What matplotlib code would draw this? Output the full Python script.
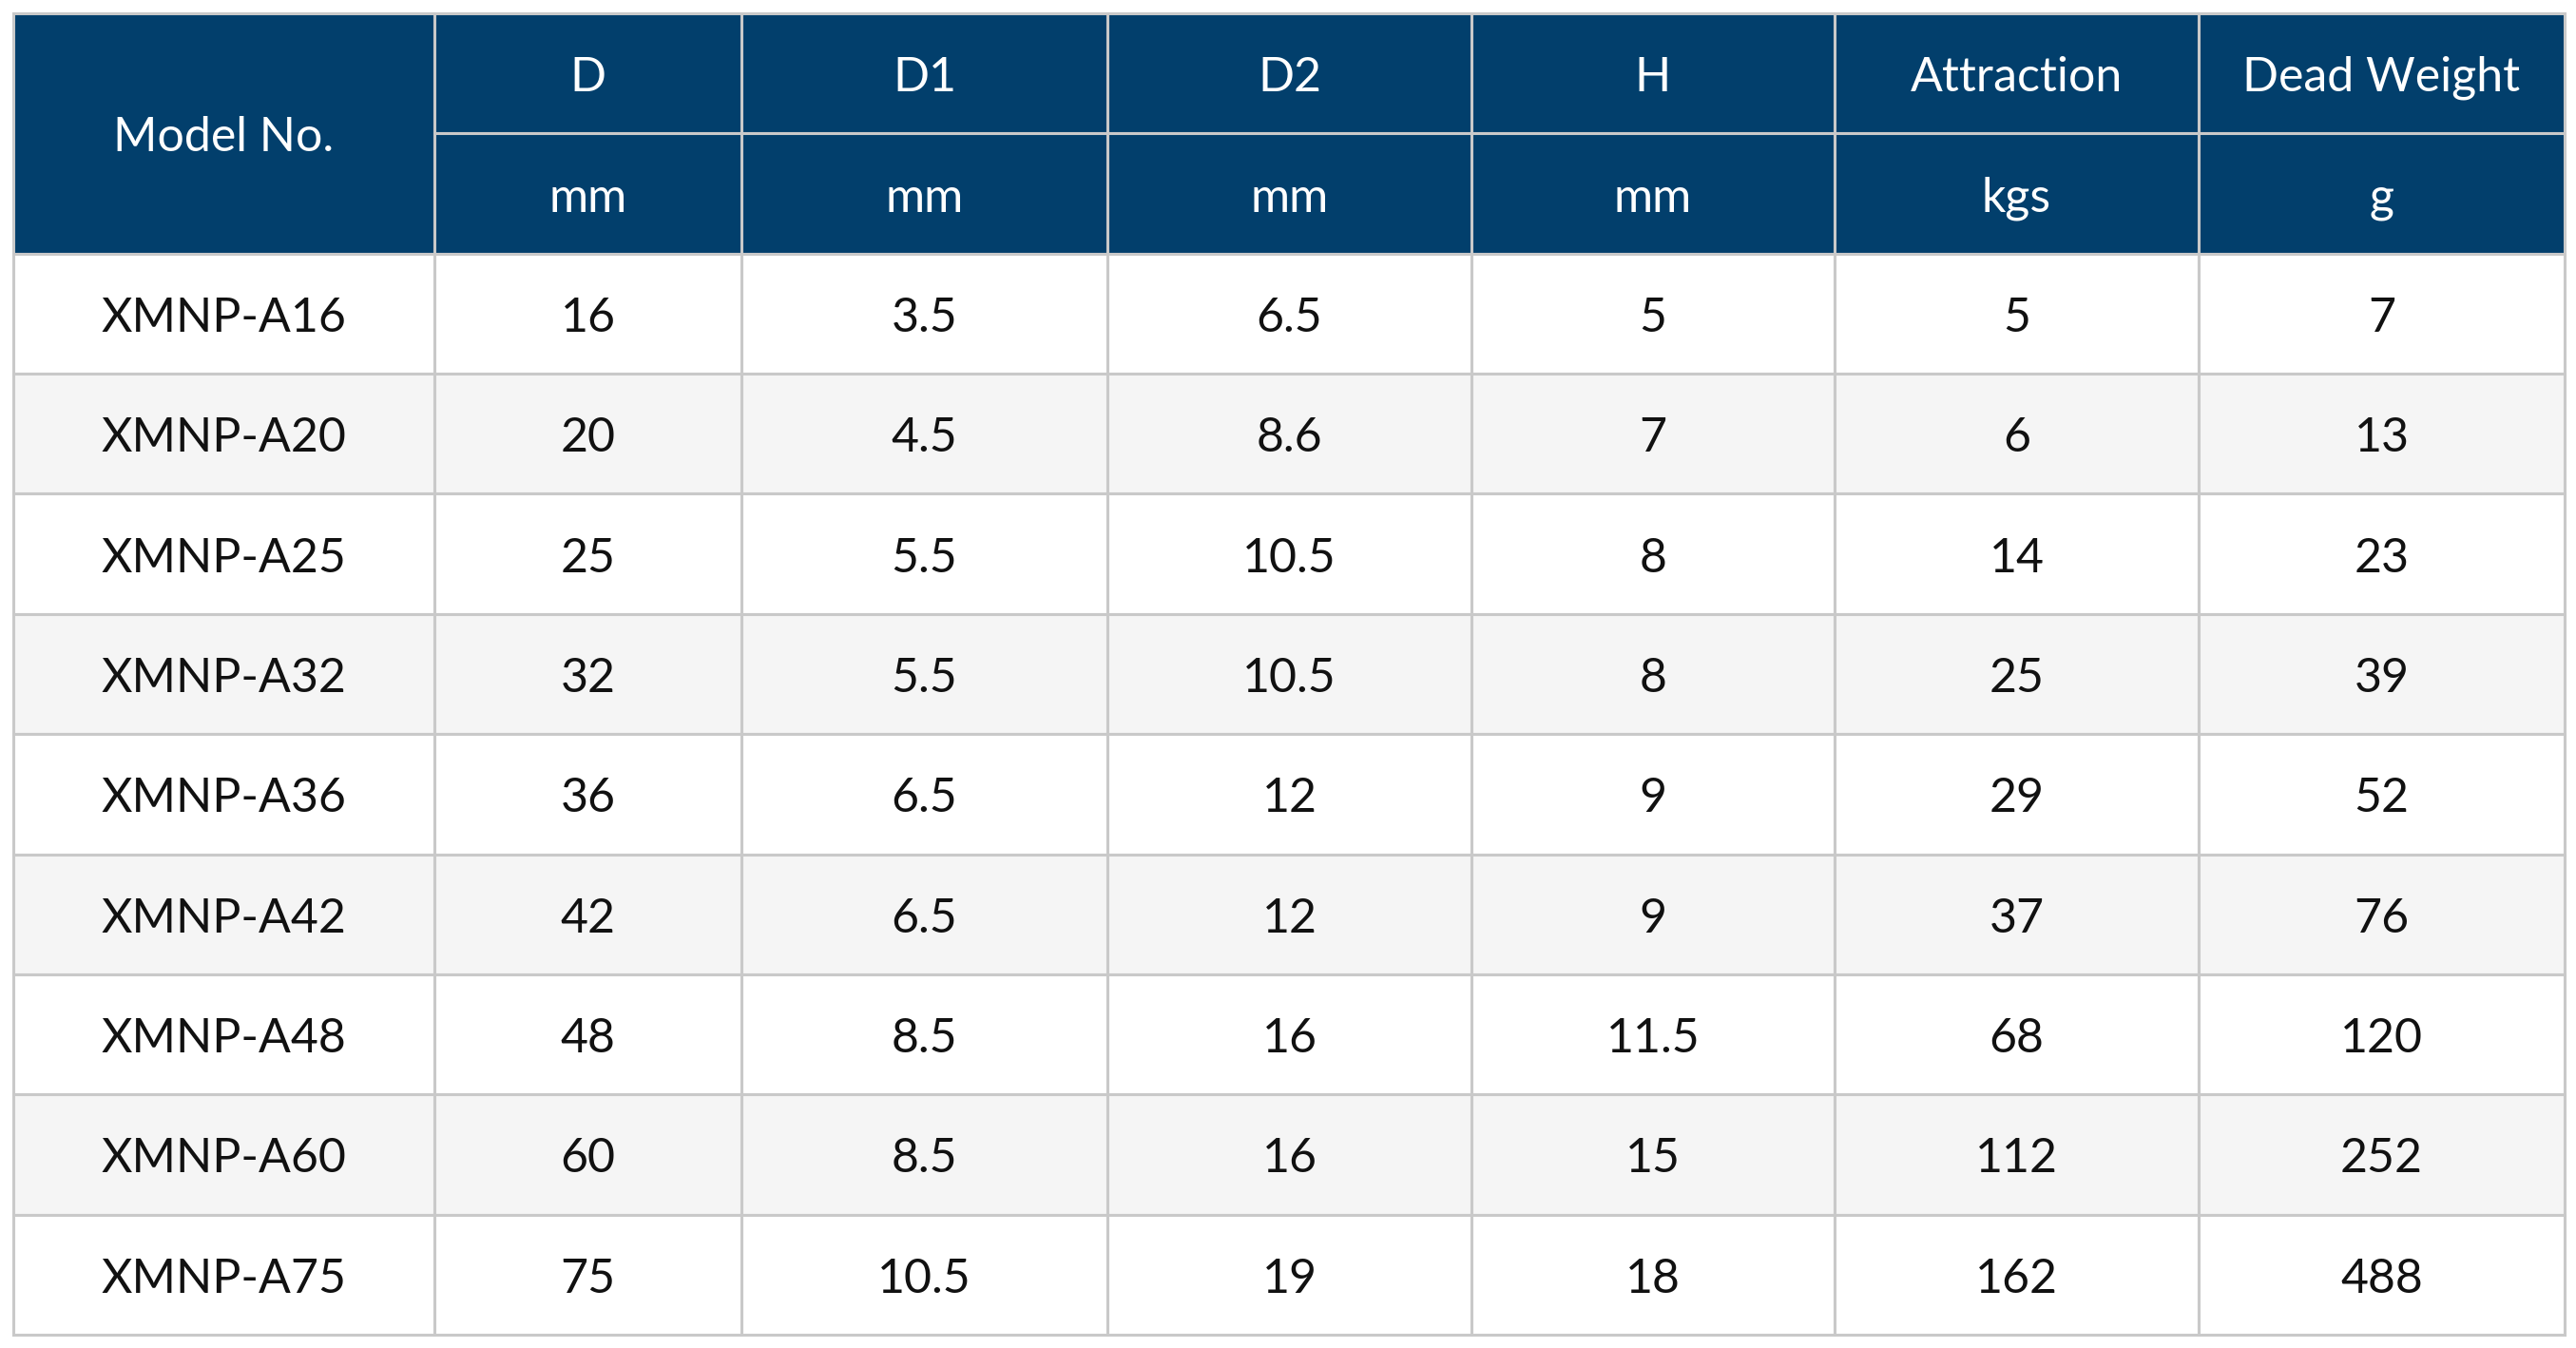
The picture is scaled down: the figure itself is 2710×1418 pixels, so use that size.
import matplotlib.pyplot as plt
from matplotlib.patches import Rectangle

# data
models = ["XMNP-A16", "XMNP-A20", "XMNP-A25", "XMNP-A32", "XMNP-A36",
          "XMNP-A42", "XMNP-A48", "XMNP-A60", "XMNP-A75"]
d = ["16", "20", "25", "32", "36", "42", "48", "60", "75"]
d1 = ["3.5", "4.5", "5.5", "5.5", "6.5", "6.5", "8.5", "8.5", "10.5"]
d2 = ["6.5", "8.6", "10.5", "10.5", "12", "12", "16", "16", "19"]
h = ["5", "7", "8", "8", "9", "9", "11.5", "15", "18"]
attraction = ["5", "6", "14", "25", "29", "37", "68", "112", "162"]
dead_weight = ["7", "13", "23", "39", "52", "76", "120", "252", "488"]
headers = ["D", "D1", "D2", "H", "Attraction", "Dead Weight"]
units = ["mm", "mm", "mm", "mm", "kgs", "g"]

columns = [models, d, d1, d2, h, attraction, dead_weight]

# layout (pixels)
col_edges = [14, 457, 780, 1165, 1548, 1930, 2313, 2698]
top, bottom = 14, 1404
n_rows = 2 + len(models)
row_h = (bottom - top) / n_rows
dy = 5  # nudge text down a little

navy = "#023F6C"
stripe = "#F5F5F5"
grid = "#C9C9C9"
font = "Lato"
fs = 36

fig = plt.figure(figsize=(27.10, 14.18), dpi=100)
ax = fig.add_axes([0, 0, 1, 1])
ax.set_xlim(0, 2710)
ax.set_ylim(1418, 0)
ax.axis("off")

def cell(x0, x1, y0, y1, fc):
    ax.add_patch(Rectangle((x0, y0), x1 - x0, y1 - y0, facecolor=fc,
                           edgecolor=grid, linewidth=2.2))

# header
cell(col_edges[0], col_edges[1], top, top + 2 * row_h, navy)
ax.text((col_edges[0] + col_edges[1]) / 2, top + row_h + dy, "Model No.",
        ha="center", va="center", color="white", fontsize=fs, family=font)
for i, (hd, un) in enumerate(zip(headers, units)):
    x0, x1 = col_edges[i + 1], col_edges[i + 2]
    cell(x0, x1, top, top + row_h, navy)
    cell(x0, x1, top + row_h, top + 2 * row_h, navy)
    ax.text((x0 + x1) / 2, top + row_h * 0.5 + dy, hd, ha="center",
            va="center", color="white", fontsize=fs, family=font)
    ax.text((x0 + x1) / 2, top + row_h * 1.5 + dy, un, ha="center",
            va="center", color="white", fontsize=fs, family=font)

# body
for r in range(len(models)):
    y0 = top + (r + 2) * row_h
    fc = "white" if r % 2 == 0 else stripe
    for c, col in enumerate(columns):
        x0, x1 = col_edges[c], col_edges[c + 1]
        cell(x0, x1, y0, y0 + row_h, fc)
        ax.text((x0 + x1) / 2, y0 + row_h / 2 + dy, col[r], ha="center",
                va="center", color="#111111", fontsize=fs, family=font)

fig.savefig("out.png", dpi=100, facecolor="white")
